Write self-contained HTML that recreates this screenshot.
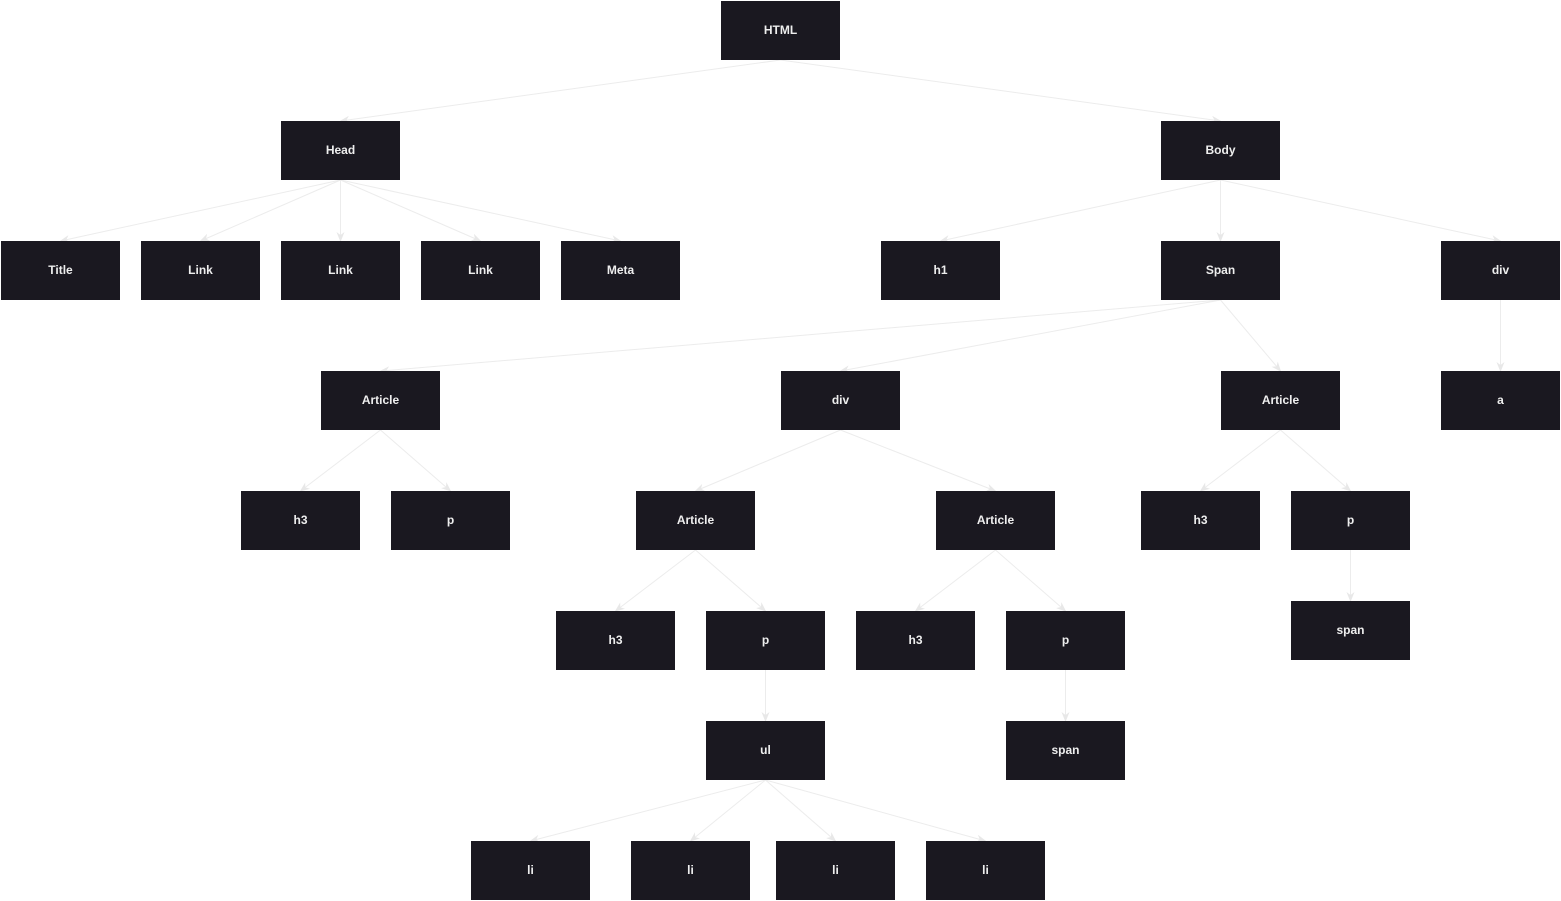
<!DOCTYPE html>
<html><head><meta charset="utf-8"><style>
html,body{margin:0;padding:0;background:#fff;width:1561px;height:901px;overflow:hidden}
.n{position:absolute;width:119px;height:59px;background:#1a1820;color:#eee;font:bold 12px "Liberation Sans",sans-serif;display:flex;align-items:center;justify-content:center;box-sizing:border-box;padding-bottom:2px}
svg{position:absolute;left:0;top:0}
</style></head><body>
<svg width="1561" height="901" id="s"></svg>
<div id="c"></div>
<script>
var N={
HTML:[721,1,"HTML"],Head:[281,121,"Head"],Body:[1161,121,"Body"],
T:[1,241,"Title"],L1:[141,241,"Link"],L2:[281,241,"Link"],L3:[421,241,"Link"],M:[561,241,"Meta"],
h1:[881,241,"h1"],Sp:[1161,241,"Span"],dv:[1441,241,"div"],
A1:[321,371,"Article"],d2:[781,371,"div"],A2:[1221,371,"Article"],a:[1441,371,"a"],
h3a:[241,491,"h3"],pa:[391,491,"p"],A3:[636,491,"Article"],A4:[936,491,"Article"],h3b:[1141,491,"h3"],pb:[1291,491,"p"],
h3c:[556,611,"h3"],pc:[706,611,"p"],h3d:[856,611,"h3"],pd:[1006,611,"p"],spb:[1291,601,"span"],
ul:[706,721,"ul"],spd:[1006,721,"span"],
li1:[471,841,"li"],li2:[631,841,"li"],li3:[776,841,"li"],li4:[926,841,"li"]};
var E=[["HTML","Head"],["HTML","Body"],["Head","T"],["Head","L1"],["Head","L2"],["Head","L3"],["Head","M"],
["Body","h1"],["Body","Sp"],["Body","dv"],["Sp","A1"],["Sp","d2"],["Sp","A2"],["dv","a"],
["A1","h3a"],["A1","pa"],["d2","A3"],["d2","A4"],["A2","h3b"],["A2","pb"],["A3","h3c"],["A3","pc"],["A4","h3d"],["A4","pd"],
["pb","spb"],["pc","ul"],["pd","spd"],["ul","li1"],["ul","li2"],["ul","li3"],["ul","li4"]];
var s='<defs><marker id="m" markerWidth="10" markerHeight="8" refX="9" refY="4" orient="auto" markerUnits="userSpaceOnUse"><path d="M0,0 L10,4 L0,8 L3,4z" fill="#e8e8e8"/></marker></defs>';
E.forEach(function(e){var p=N[e[0]],c=N[e[1]];s+='<line x1="'+(p[0]+59.5)+'" y1="'+(p[1]+59)+'" x2="'+(c[0]+59.5)+'" y2="'+c[1]+'" stroke="#ececec" stroke-width="1" marker-end="url(#m)"/>';});
document.getElementById('s').innerHTML=s;
var h='';for(var k in N){var n=N[k];h+='<div class="n" style="left:'+n[0]+'px;top:'+n[1]+'px">'+n[2]+'</div>';}
document.getElementById('c').innerHTML=h;
</script>
</body></html>
